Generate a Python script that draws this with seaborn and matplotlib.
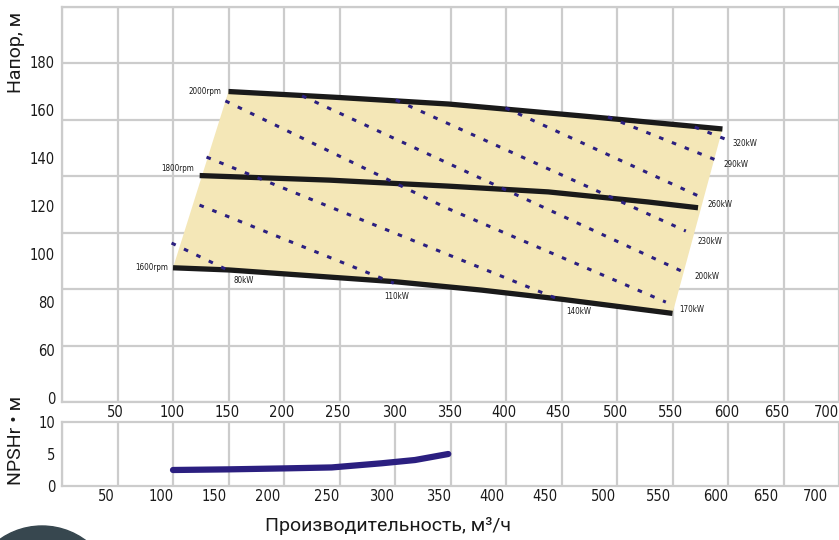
import matplotlib
matplotlib.use("Agg")
import matplotlib.pyplot as plt
import seaborn as sns
import numpy as np
from matplotlib.patches import Circle

# head curves, Q (m3/h) vs H (m)
q_1600 = [100, 150, 300, 378, 450, 550]
h_1600 = [94.4, 93.5, 88.6, 85.1, 81.3, 75.4]
q_1800 = [124, 241, 348, 438, 528, 573]
h_1800 = [132.8, 130.9, 128.4, 126.0, 121.8, 119.4]
q_2000 = [150, 250, 348, 474, 595]
h_2000 = [167.8, 165.3, 162.6, 157.4, 152.2]
speed_labels = ["1600rpm", "1800rpm", "2000rpm"]

# constant power lines
power_labels = ["80kW", "110kW", "140kW", "170kW", "200kW",
                "230kW", "260kW", "290kW", "320kW"]
power_q = [[98.7, 149.0], [123.9, 298.9], [130.2, 448.9],
           [147.2, 346.5, 544.0], [216.3, 562.0], [300.7, 562.0],
           [399.5, 577.2], [491.9, 593.4], [570.0, 599.7]]
power_h = [[104.7, 93.5], [120.5, 88.0], [140.5, 81.0],
           [163.9, 119.3, 80.1], [166.0, 92.2], [164.3, 109.7],
           [161.0, 123.5], [157.2, 138.5], [153.0, 147.6]]

# NPSHr curve
q_npsh = [100, 150, 200, 243, 288, 318, 348]
npsh = [2.5, 2.6, 2.75, 2.9, 3.55, 4.06, 5.0]

# tick labels
x_labels = ["50", "100", "150", "200", "250", "300", "350",
            "400", "450", "500", "550", "600", "650", "700"]
x_pos_top = [48, 99, 149, 198, 248, 300, 349, 398, 447, 499, 548, 599, 644, 689]
x_pos_bottom = [40, 89, 137, 185, 238, 288, 339, 387, 435, 488, 537, 589, 634, 679]
y_pos_top = [40, 60, 80, 100, 120, 140, 160, 180]
y_labels_top = ["0", "60", "80", "100", "120", "140", "160", "180"]

sns.set_theme(style="white")
plt.rcParams["font.family"] = ["DejaVu Sans"]

grid_c = "#cccccc"
navy = "#2b1f80"
fill_c = "#f4e7b7"
tick_font = {"family": ["DejaVu Sans"], "size": 10.5, "stretch": "condensed"}
small = {"family": ["DejaVu Sans"], "size": 5.8, "stretch": "condensed"}
label_font = ["Roboto", "DejaVu Sans"]

fig = plt.figure(figsize=(8.39, 5.40), dpi=100)
ax = fig.add_axes([62 / 839, 1 - 402 / 540, 777 / 839, 395 / 540])
ax2 = fig.add_axes([62 / 839, 1 - 486 / 540, 777 / 839, 64 / 540])

# operating area
poly_q = q_1600 + q_2000[::-1]
poly_h = h_1600 + h_2000[::-1]
ax.fill(poly_q, poly_h, color=fill_c, lw=0, zorder=1)

for q, h in zip([q_1600, q_1800, q_2000], [h_1600, h_1800, h_2000]):
    sns.lineplot(x=q, y=h, ax=ax, color="#1a1a1a", lw=3.8, sort=False,
                 zorder=3, solid_capstyle="butt")
dy_speed = [0, 7, 0]
dx_speed = [-5, -6, -7]
for q, h, lab, dx, dy in zip([q_1600, q_1800, q_2000], [h_1600, h_1800, h_2000],
                             speed_labels, dx_speed, dy_speed):
    ax.annotate(lab, (q[0], h[0]), xytext=(dx, dy), textcoords="offset pixels",
                ha="right", va="center", color="#1a1a1a", **small)

power_offsets = [(6, -11), (-10, -13), (6, -12), (13, -7), (9, -3),
                 (12, -10), (5, -7), (3, -3), (5, -3)]
for q, h, lab, off in zip(power_q, power_h, power_labels, power_offsets):
    sns.lineplot(x=q, y=h, ax=ax, color=navy, lw=2.2, sort=False, zorder=4,
                 linestyle=(0, (1.5, 3.0)))
    ax.annotate(lab, (q[-1], h[-1]), xytext=off, textcoords="offset pixels",
                ha="left", va="center", color="#1a1a1a", **small)

sns.lineplot(x=q_npsh, y=npsh, ax=ax2, color=navy, lw=4.5, sort=False, zorder=3)

# axes styling
ax.set_xlim(0, 697.5)
ax.set_ylim(38.5, 203)
ax.set_xticks(np.arange(0, 701, 50), minor=True)
ax.set_yticks(np.linspace(38.5, 203, 8), minor=True)
ax.set_xticks(x_pos_top)
ax.set_xticklabels(x_labels, **tick_font)
ax.set_yticks(y_pos_top)
ax.set_yticklabels(y_labels_top, **tick_font)

ax2.set_xlim(0, 697.5)
ax2.set_ylim(0, 10)
ax2.set_xticks(np.arange(0, 701, 50), minor=True)
ax2.set_yticks([0, 5, 10], minor=True)
ax2.set_xticks(x_pos_bottom)
ax2.set_xticklabels(x_labels, **tick_font)
ax2.set_yticks([0, 5, 10])
ax2.set_yticklabels(["0", "5", "10"], **tick_font)

for a in (ax, ax2):
    a.grid(False)
    a.grid(True, which="minor", color=grid_c, lw=1.6, zorder=0)
    a.set_axisbelow(True)
    a.tick_params(which="both", length=0, colors="#1a1a1a")
    a.tick_params(axis="x", pad=2)
    a.tick_params(axis="y", pad=5)
    for s in ["left", "bottom", "top"]:
        a.spines[s].set_color(grid_c)
        a.spines[s].set_linewidth(1.6)
    a.spines["right"].set_visible(False)
    a.set_xlabel("")
    a.set_ylabel("")

ax.set_ylabel("Напор, м", family=label_font, fontsize=14, color="#1a1a1a")
ax.yaxis.set_label_coords(-37 / 777, (402 - 52) / 395)
ax2.set_ylabel("NPSHr • м", family=label_font, fontsize=14, color="#1a1a1a")
ax2.yaxis.set_label_coords(-37 / 777, (486 - 440) / 64)
ax2.set_xlabel("Производительность, м³/ч", family=label_font, fontsize=14,
               color="#1a1a1a", va="center")
ax2.xaxis.set_label_coords((388 - 62) / 777, (486 - 526) / 64)

# decorative circle at the bottom left corner
fig.add_artist(Circle((0.42, -0.59), 0.73, transform=fig.dpi_scale_trans,
                      color="#37474f", zorder=0))

fig.savefig("out.png", dpi=100)
